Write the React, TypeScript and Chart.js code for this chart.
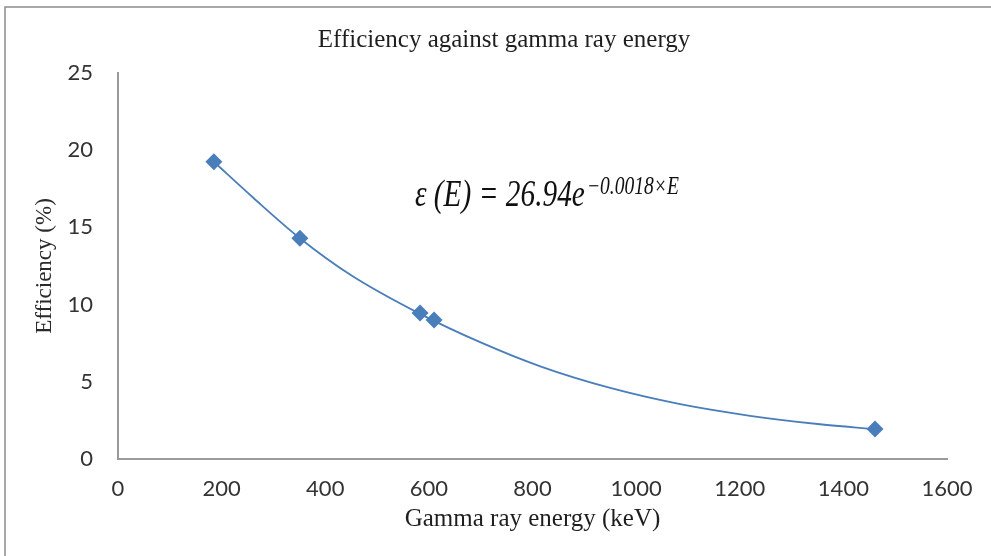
import React, { useEffect, useRef } from "react";
import { Chart, registerables } from "chart.js";

Chart.register(...registerables);

// ---- data ----
const energies = [185, 351, 583, 610, 1461];
const efficiencies = [19.25, 14.3, 9.45, 9.0, 1.95];

// fitted curve
const trendEnergies = [185, 260, 351, 450, 583, 700, 815, 950, 1085, 1220, 1355, 1461];
const trendEfficiencies = [19.25, 16.95, 14.3, 11.9, 9.4, 7.55, 6.0, 4.6, 3.55, 2.8, 2.25, 1.93];

const xTickValues = [0, 200, 400, 600, 800, 1000, 1200, 1400, 1600];
const yTickValues = [0, 5, 10, 15, 20, 25];

const chartTitle = "Efficiency against gamma ray energy";
const xAxisTitle = "Gamma ray energy (keV)";
const yAxisTitle = "Efficiency (%)";
const equationMain = "ε (E) = 26.94e";
const equationSup = "−0.0018×E";

const BLUE = "#4a7ebb";

const framePlugin = {
  id: "frameAndEquation",
  beforeDraw(chart: any) {
    const { ctx, width, height } = chart;
    ctx.save();
    ctx.fillStyle = "#ffffff";
    ctx.fillRect(0, 0, width, height);
    ctx.strokeStyle = "#8c8c8c";
    ctx.lineWidth = 1.5;
    ctx.beginPath();
    ctx.moveTo(5, height);
    ctx.lineTo(5, 7);
    ctx.lineTo(width, 7);
    ctx.stroke();
    ctx.restore();
  },
  afterDatasetsDraw(chart: any) {
    const { ctx, scales } = chart;
    const x0 = scales.x.getPixelForValue(573);
    const y0 = scales.y.getPixelForValue(16.4);
    ctx.save();
    ctx.fillStyle = "#101010";
    ctx.textBaseline = "alphabetic";
    ctx.textAlign = "left";
    ctx.font = 'italic 34px "Liberation Serif"';
    const w1 = ctx.measureText(equationMain).width;
    const target1 = 170;
    ctx.save();
    ctx.translate(x0, y0);
    ctx.scale(target1 / w1, 1.1);
    ctx.fillText(equationMain, 0, 0);
    ctx.restore();
    ctx.font = 'italic 22px "Liberation Serif"';
    const w2 = ctx.measureText(equationSup).width;
    const target2 = 92;
    ctx.save();
    ctx.translate(x0 + target1 + 2, y0 - 12);
    ctx.scale(target2 / w2, 1.1);
    ctx.fillText(equationSup, 0, 0);
    ctx.restore();
    ctx.restore();
  },
};

export default function App() {
  const canvasRef = useRef<HTMLCanvasElement | null>(null);

  useEffect(() => {
    document.body.style.margin = "0";
    const canvas = canvasRef.current;
    if (!canvas) return;

    const chart = new Chart(canvas, {
      type: "scatter",
      data: {
        datasets: [
          {
            label: "Efficiency",
            data: energies.map((e, i) => ({ x: e, y: efficiencies[i] })),
            backgroundColor: BLUE,
            borderColor: BLUE,
            pointStyle: "rectRot",
            pointRadius: 8.5,
            pointBorderWidth: 0,
            showLine: false,
          },
          {
            label: "Fit",
            data: trendEnergies.map((e, i) => ({ x: e, y: trendEfficiencies[i] })),
            borderColor: BLUE,
            backgroundColor: BLUE,
            borderWidth: 1.8,
            pointRadius: 0,
            showLine: true,
            cubicInterpolationMode: "monotone",
          },
        ],
      },
      options: {
        animation: false,
        responsive: false,
        maintainAspectRatio: false,
        layout: { padding: { left: 61, right: 44, top: 0, bottom: 17 } },
        plugins: {
          legend: { display: false },
          tooltip: { enabled: false },
          title: {
            display: true,
            text: chartTitle,
            color: "#1e1e1e",
            font: { family: '"Liberation Serif"', size: 25, weight: "normal" },
            padding: { top: 25, bottom: 18 },
          },
        },
        scales: {
          x: {
            type: "linear",
            min: 0,
            max: 1600,
            afterBuildTicks: (scale: any) => {
              scale.ticks = xTickValues.map((v) => ({ value: v }));
            },
            afterFit: (scale: any) => {
              scale.height = 80;
            },
            grid: { display: false, drawTicks: false },
            border: { display: true, color: "#9a9a9a", width: 2 },
            ticks: {
              color: "#333333",
              padding: 17,
              font: { family: "Lato", size: 22 },
              callback: (v: any) => String(v),
            },
            title: {
              display: true,
              text: xAxisTitle,
              color: "#1e1e1e",
              font: { family: '"Liberation Serif"', size: 25 },
              padding: { top: 0, bottom: 5 },
            },
          },
          y: {
            type: "linear",
            min: 0,
            max: 25,
            afterBuildTicks: (scale: any) => {
              scale.ticks = yTickValues.map((v) => ({ value: v }));
            },
            afterFit: (scale: any) => {
              scale.width = 57;
            },
            grid: { display: false, drawTicks: false },
            border: { display: true, color: "#9a9a9a", width: 2 },
            ticks: {
              color: "#333333",
              padding: 25,
              font: { family: "Lato", size: 22 },
              callback: (v: any) => String(v),
            },
            title: {
              display: true,
              text: yAxisTitle,
              color: "#2a2a2a",
              font: { family: '"Liberation Serif"', size: 23 },
              padding: { top: -30, bottom: 0 },
            },
          },
        },
      },
      plugins: [framePlugin],
    });

    return () => {
      chart.destroy();
    };
  }, []);

  return (
    <div style={{ width: 991, height: 556 }}>
      <canvas ref={canvasRef} width={991} height={556} style={{ display: "block", width: 991, height: 556 }} />
    </div>
  );
}
